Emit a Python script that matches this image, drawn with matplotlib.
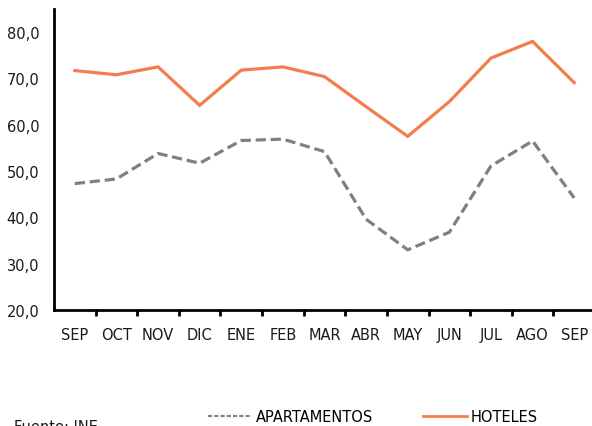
import matplotlib
matplotlib.use("Agg")
import matplotlib.pyplot as plt
from matplotlib.lines import Line2D

months = ["SEP", "OCT", "NOV", "DIC", "ENE", "FEB", "MAR", "ABR", "MAY", "JUN", "JUL", "AGO", "SEP"]
apartamentos = [47.3, 48.3, 53.8, 51.7, 56.6, 56.9, 54.2, 39.6, 33.0, 36.8, 51.1, 56.5, 44.2]
hoteles = [71.7, 70.8, 72.5, 64.2, 71.8, 72.5, 70.4, 63.9, 57.5, 65.0, 74.4, 78.0, 69.1]
yticks = [20, 30, 40, 50, 60, 70, 80]

orange = "#F47D4D"
gray = "#7F7F85"

plt.rcParams['font.family'] = ['DejaVu Sans']
fig = plt.figure(figsize=(5.92, 4.27), dpi=100)
W, H = 592, 427
ax = fig.add_axes([54 / W, (427 - 311) / H, 541 / W, 301 / H])

x = list(range(len(months)))
ax.plot(x, apartamentos, color=gray, lw=2.3, linestyle=(0, (3.2, 1.5)), solid_capstyle='butt')
ax.plot(x, hoteles, color=orange, lw=2.3, solid_joinstyle='miter')

ax.set_xlim(-0.5, len(months) - 0.5)
ax.set_ylim(20, 85)
ax.set_yticks(yticks)
ax.set_yticklabels([f"{v:.1f}".replace(".", ",") for v in yticks], fontsize=10.5, color="#1a1a1a")
ax.tick_params(axis='y', length=0, pad=10.5)

ax.set_xticks([i + 0.5 for i in range(len(months) - 1)])
ax.set_xticklabels([])
ax.set_xticks(x, minor=True)
ax.set_xticklabels(months, minor=True, fontsize=10.5, color="#1a1a1a")
ax.tick_params(axis='x', which='major', direction='out', length=4, width=2, color='black')
ax.tick_params(axis='x', which='minor', length=0, pad=12)

for s in ['top', 'right']:
    ax.spines[s].set_visible(False)
for s in ['left', 'bottom']:
    ax.spines[s].set_linewidth(2)
    ax.spines[s].set_color('black')

handles = [Line2D([], [], color=gray, lw=1.5, linestyle=(0, (2, 1))),
           Line2D([], [], color=orange, lw=2)]
fig.legend(handles, ["APARTAMENTOS", "HOTELES"], loc='center', bbox_to_anchor=(373 / W, 1 - 418 / H),
           ncol=2, frameon=False, fontsize=10.5, handlelength=3.0, handletextpad=0.3, columnspacing=3.4,
           borderaxespad=0, borderpad=0)

fig.text(14 / W, 1 - 420 / H, "Fuente: INE", fontsize=10.5, va='top', ha='left', color="#1a1a1a")

fig.savefig("out.png", dpi=100)
